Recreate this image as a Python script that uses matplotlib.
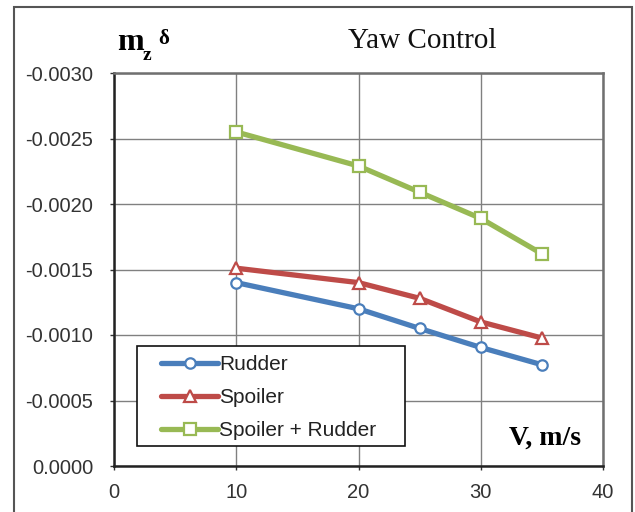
import numpy as np
import matplotlib
matplotlib.use('Agg')
import matplotlib.pyplot as plt
from matplotlib.ticker import FuncFormatter
from matplotlib.patches import Rectangle

# Yaw control derivative vs. airspeed
V = [10, 20, 25, 30, 35]
rudder = [-0.00140, -0.00120, -0.00105, -0.000905, -0.000773]
spoiler = [-0.00151, -0.00140, -0.00128, -0.00110, -0.000977]
spoiler_rudder = [-0.00255, -0.00229, -0.00209, -0.00189, -0.00162]

series = [('Rudder', rudder, '#4A7EBB', 'o', 7.5),
          ('Spoiler', spoiler, '#BE4B48', '^', 8.0),
          ('Spoiler + Rudder', spoiler_rudder, '#98B954', 's', 8.5)]

plt.rcParams['font.family'] = 'Liberation Sans'

W, H = 635, 512
fig = plt.figure(figsize=(W/100, H/100), dpi=100)
ax = fig.add_axes([114/W, 1-466/H, (603-114)/W, (466-73)/H])

for name, vals, col, mk, ms in series:
    ax.plot(V, vals, color=col, lw=3.8, marker=mk, ms=ms,
            mfc='white', mec=col, mew=1.6, label=name, solid_capstyle='round')

ax.set_xlim(0, 40)
ax.set_ylim(0, -0.003)
ax.set_xticks(np.arange(0, 41, 10))
ax.set_yticks(np.arange(0, -0.00301, -0.0005))
ax.yaxis.set_major_formatter(FuncFormatter(lambda v, p: '%.4f' % (0.0 if abs(v) < 1e-9 else v)))
ax.grid(True, color='#808080', lw=1.0)
ax.set_axisbelow(True)
ax.tick_params(labelsize=14.5, colors='#333333', length=3, width=1, direction='out')
ax.tick_params(axis='x', pad=9)
ax.tick_params(axis='y', pad=12)
for s in ['left', 'bottom']:
    ax.spines[s].set_linewidth(1.8)
    ax.spines[s].set_color('#222222')
for s in ['top', 'right']:
    ax.spines[s].set_linewidth(1.8)
    ax.spines[s].set_color('#707070')

# legend box drawn separately so the padding can differ per side
ax.add_patch(Rectangle(((137-114)/489, (466-446)/393), (405-137)/489, (446-346)/393,
                       transform=ax.transAxes, facecolor='white', edgecolor='#111111',
                       lw=1.2, zorder=4.5, clip_on=False))
leg = ax.legend(loc='upper left', bbox_to_anchor=((161-114)/489, (466-355)/393),
                fontsize=15, frameon=False, handlelength=2.75, handletextpad=0.05,
                borderpad=0, labelspacing=0.67, borderaxespad=0)
for t in leg.get_texts():
    t.set_color('#222222')

# y-axis symbol m_z^delta
fig.text(117/W, 1-50/H, 'm', fontsize=23, family='Liberation Serif', weight='bold',
         ha='left', va='baseline')
fig.text(143/W, 1-60/H, 'z', fontsize=14, family='Liberation Serif', weight='bold',
         ha='left', va='baseline')
fig.text(158/W, 1-44/H, 'δ', fontsize=15, family='Liberation Serif', weight='bold',
         ha='left', va='baseline')

fig.text(422/W, 1-48/H, 'Yaw Control', fontsize=21, family='Liberation Serif',
         ha='center', va='baseline', color='#111111')
fig.text(545/W, 1-445/H, 'V, m/s', fontsize=20, family='Liberation Serif',
         weight='bold', ha='center', va='baseline')

# outer frame
fig.patches.append(Rectangle((14/W, -0.1), (632-14)/W, 1.1-7/H,
                             transform=fig.transFigure, fill=False,
                             edgecolor='#555555', lw=1.5))

fig.savefig('out.png', dpi=100)
